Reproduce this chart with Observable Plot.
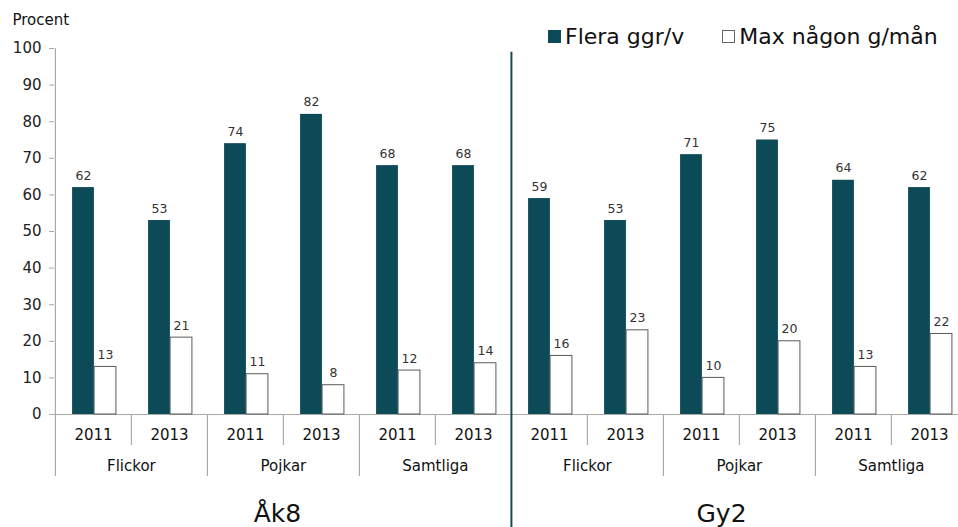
<!DOCTYPE html>
<html>
<head>
<meta charset="utf-8">
<script src="https://cdn.jsdelivr.net/npm/d3@7"></script>
<script src="https://cdn.jsdelivr.net/npm/@observablehq/plot@0.6"></script>
<style>
  html, body { margin: 0; padding: 0; background: #fff; }
  #wrap { position: relative; width: 958px; height: 527px; overflow: hidden; font-family: "DejaVu Sans", Verdana, sans-serif; }
  #legend { position: absolute; left: 548px; top: 24px; display: flex; align-items: center; font-size: 22px; color: #111; }
  #legend .item { display: flex; align-items: center; }
  #legend .item:first-child { margin-right: 38px; }
  #legend .sw { width: 13px; height: 13px; margin-right: 4px; box-sizing: border-box; }
</style>
</head>
<body>
<div id="wrap">
  <div id="chart"></div>
  <div id="legend"></div>
</div>
<script>
// ---- data ----
const schools = ["Åk8", "Gy2"];
const groups = ["Flickor", "Pojkar", "Samtliga"];
const years = ["2011", "2013"];
const seriesNames = ["Flera ggr/v", "Max någon g/mån"];
const flera = [62, 53, 74, 82, 68, 68, 59, 53, 71, 75, 64, 62];
const maxNagon = [13, 21, 11, 8, 12, 14, 16, 23, 10, 20, 13, 22];
const yTicks = [0, 10, 20, 30, 40, 50, 60, 70, 80, 90, 100];

const dark = "#0c4a57";
const gray = "#a9a9a9";
const font = "DejaVu Sans, Verdana, sans-serif";

// build slots
const slots = [];
schools.forEach(s => groups.forEach(g => years.forEach(y => slots.push({school: s, group: g, year: y, key: `${s}|${g}|${y}`}))));
slots.forEach((d, i) => { d.i = i; d.flera = flera[i]; d.max = maxNagon[i]; });
const keys = slots.map(d => d.key);

const W = 958, H = 527;
const x0 = 54, x1 = 968;          // plot x range (right end is cropped)
const yBase = 414, yTop = 48;
const bw = (x1 - x0) / keys.length;
const pxPerUnit = (yBase - yTop) / 100;
const below = px => -px / pxPerUnit;   // offset below baseline in data units

// boundary rules
const shortRules = slots.filter(d => d.i % 2 === 1);
const longRules = slots.filter(d => d.i % 2 === 0 && d.i % 6 !== 0);
const axisRule = slots.filter(d => d.i === 0);
const dividerRule = slots.filter(d => d.i === 6);
const groupSlots = slots.filter(d => d.i % 2 === 1);
const schoolSlots = [
  {key: keys[3], label: schools[0], dx: -44},
  {key: keys[9], label: schools[1], dx: -56}
];

const plot = Plot.plot({
  width: W,
  height: H,
  marginTop: yTop,
  marginBottom: H - yBase,
  marginLeft: x0,
  marginRight: 0,
  style: {fontFamily: font, background: "white", overflow: "visible"},
  x: {type: "band", domain: keys, range: [x0, x1], padding: 0, axis: null},
  y: {domain: [0, 100], range: [yBase, yTop], axis: null},
  marks: [
    Plot.axisY({ticks: yTicks, tickSize: 5, tickPadding: 8, fontSize: 15, color: "#222", stroke: gray, label: null}),
    Plot.ruleY([0], {stroke: gray, strokeWidth: 1.2}),
    Plot.ruleX(axisRule, {x: "key", dx: -bw / 2, y1: 100, y2: below(62), stroke: gray, strokeWidth: 1.2}),
    Plot.ruleX(shortRules, {x: "key", dx: -bw / 2, y1: 0, y2: below(31), stroke: gray, strokeWidth: 1.2}),
    Plot.ruleX(longRules, {x: "key", dx: -bw / 2, y1: 0, y2: below(62), stroke: gray, strokeWidth: 1.2}),
    Plot.barY(slots, {x: "key", y: "flera", fill: dark, insetLeft: bw / 2 - 21, insetRight: bw / 2 - 1}),
    Plot.barY(slots, {x: "key", y: "max", fill: "white", stroke: "#5a5a5a", strokeWidth: 1, insetLeft: bw / 2 + 1, insetRight: bw / 2 - 23}),
    Plot.text(slots, {x: "key", y: "flera", text: d => String(d.flera), dx: -10, dy: -8, lineAnchor: "bottom", fontSize: 12.5, fill: "#333"}),
    Plot.text(slots, {x: "key", y: "max", text: d => String(d.max), dx: 12, dy: -8, lineAnchor: "bottom", fontSize: 12.5, fill: "#333"}),
    Plot.text(slots, {x: "key", y: 0, text: "year", dy: 21, lineAnchor: "middle", fontSize: 15, fill: "#111"}),
    Plot.text(groupSlots, {x: "key", y: 0, text: "group", dx: -bw / 2, dy: 52, lineAnchor: "middle", fontSize: 15, fill: "#111"}),
    ...schoolSlots.map(s => Plot.text([s], {x: "key", y: 0, text: "label", dx: s.dx, dy: 99, lineAnchor: "middle", fontSize: 25, fill: "#111"})),
    Plot.ruleX(dividerRule, {x: "key", dx: -bw / 2, y1: 99, y2: below(H - yBase + 2), stroke: "#1b4a56", strokeWidth: 2}),
    Plot.text(["Procent"], {frameAnchor: "top-left", text: d => d, dx: -(x0 - 12), dy: -(yTop - 20), textAnchor: "start", lineAnchor: "middle", fontSize: 15, fill: "#111"})
  ]
});
document.getElementById("chart").appendChild(plot);

// legend
const legend = document.getElementById("legend");
seriesNames.forEach((name, i) => {
  const item = document.createElement("div");
  item.className = "item";
  const sw = document.createElement("div");
  sw.className = "sw";
  sw.style.background = i === 0 ? dark : "white";
  sw.style.border = i === 0 ? `1px solid ${dark}` : "1px solid #666";
  const t = document.createElement("span");
  t.textContent = name;
  item.appendChild(sw);
  item.appendChild(t);
  legend.appendChild(item);
});
</script>
</body>
</html>
